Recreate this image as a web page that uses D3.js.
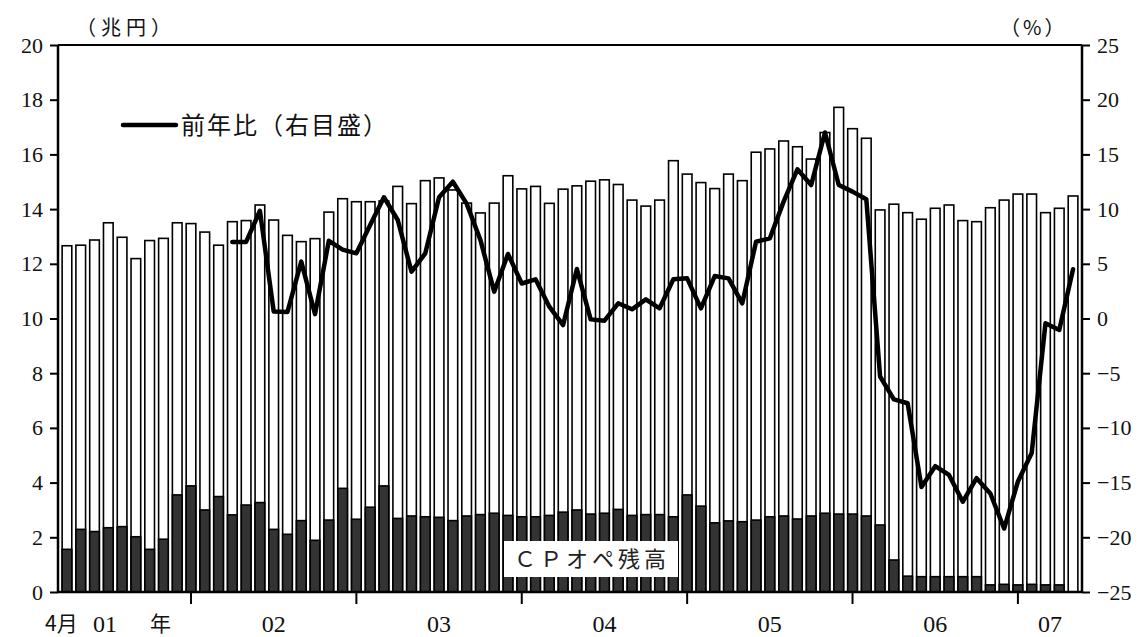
<!DOCTYPE html>
<html>
<head>
<meta charset="utf-8">
<script src="https://cdn.jsdelivr.net/npm/d3@7"></script>
<style>
  html, body { margin: 0; padding: 0; background: #fff; }
  svg { display: block; }
</style>
</head>
<body>
<svg id="chart" width="1143" height="637"></svg>
<script>
// Monthly observations, April 2001 – May 2007 (yy/mm)
const months = [
  "01/04","01/05","01/06","01/07","01/08","01/09","01/10","01/11","01/12",
  "02/01","02/02","02/03","02/04","02/05","02/06","02/07","02/08","02/09","02/10","02/11","02/12",
  "03/01","03/02","03/03","03/04","03/05","03/06","03/07","03/08","03/09","03/10","03/11","03/12",
  "04/01","04/02","04/03","04/04","04/05","04/06","04/07","04/08","04/09","04/10","04/11","04/12",
  "05/01","05/02","05/03","05/04","05/05","05/06","05/07","05/08","05/09","05/10","05/11","05/12",
  "06/01","06/02","06/03","06/04","06/05","06/06","06/07","06/08","06/09","06/10","06/11","06/12",
  "07/01","07/02","07/03","07/04","07/05"
];

// CP outstanding (trillion yen, left scale)
const cpOutstanding = [
  12.66,12.68,12.87,13.50,12.97,12.19,12.85,12.93,13.50,
  13.47,13.16,12.68,13.54,13.58,14.15,13.60,13.04,12.81,12.92,13.89,14.38,
  14.27,14.27,14.30,14.83,14.20,15.04,15.14,14.70,14.22,13.86,14.22,15.22,
  14.74,14.83,14.21,14.73,14.85,15.02,15.07,14.90,14.33,14.11,14.33,15.77,
  15.28,14.97,14.75,15.28,15.04,16.08,16.20,16.49,16.28,15.83,16.80,17.72,
  16.94,16.59,13.97,14.18,13.87,13.63,14.03,14.15,13.58,13.54,14.05,14.33,
  14.55,14.55,13.87,14.03,14.48
];

// CP purchase operations outstanding (trillion yen, left scale)
const cpOperations = [
  1.56,2.29,2.21,2.35,2.39,2.02,1.56,1.93,3.55,
  3.88,3.00,3.49,2.82,3.18,3.27,2.29,2.11,2.61,1.89,2.63,3.79,
  2.66,3.10,3.88,2.69,2.78,2.75,2.73,2.61,2.78,2.83,2.88,2.80,
  2.75,2.75,2.80,2.92,3.00,2.85,2.88,3.02,2.80,2.83,2.83,2.75,
  3.55,3.14,2.53,2.60,2.57,2.63,2.75,2.78,2.67,2.78,2.88,2.85,
  2.85,2.78,2.45,1.17,0.58,0.56,0.56,0.56,0.56,0.56,0.26,0.28,
  0.26,0.28,0.26,0.26,null
];

// Year-on-year change of CP outstanding (%, right scale)
const yoyChange = [
  null,null,null,null,null,null,null,null,null,
  null,null,null,7.0,7.0,9.85,0.65,0.6,5.2,0.4,7.1,6.3,
  5.96,8.55,11.08,9.0,4.28,5.96,11.08,12.5,10.5,7.18,2.45,5.9,
  3.2,3.58,1.08,-0.6,4.52,-0.08,-0.2,1.39,0.84,1.75,0.93,3.58,
  3.67,0.93,3.88,3.67,1.39,7.02,7.33,10.68,13.64,12.2,17.0,12.2,
  11.6,10.9,-5.3,-7.4,-7.75,-15.4,-13.5,-14.3,-16.75,-14.6,-16.0,-19.2,
  -14.9,-12.3,-0.44,-1.05,4.5
];

// Axis ticks and year labels
const leftTicks  = [0, 2, 4, 6, 8, 10, 12, 14, 16, 18, 20];
const rightTicks = [-25, -20, -15, -10, -5, 0, 5, 10, 15, 20, 25];
const yearStarts = ["02/01","03/01","04/01","05/01","06/01","07/01"];
const yearLabels = ["02","03","04","05","06","07"];

const SERIF = "'Liberation Serif', 'Times New Roman', 'DejaVu Serif', serif";
const JP = "'Noto Sans CJK JP', sans-serif";

const svg = d3.select("#chart");
const L = 58, R = 1082, T = 45, B = 592;

const x = d3.scaleBand().domain(months).range([L, R]).padding(0.3);
const yL = d3.scaleLinear().domain([0, 20]).range([B, T]);
const yR = d3.scaleLinear().domain([-25, 25]).range([B, T]);
const cx = m => x(m) + x.bandwidth() / 2;

// Total outstanding bars (white)
svg.append("g").selectAll("rect").data(months).join("rect")
  .attr("x", m => x(m))
  .attr("width", x.bandwidth())
  .attr("y", (m, i) => yL(cpOutstanding[i]))
  .attr("height", (m, i) => yL(0) - yL(cpOutstanding[i]))
  .attr("fill", "#fff").attr("stroke", "#000").attr("stroke-width", 1.6);

// CP operation bars (dark)
const opData = months.map((m, i) => ({ m, v: cpOperations[i] })).filter(d => d.v != null);
svg.append("g").selectAll("rect").data(opData).join("rect")
  .attr("x", d => x(d.m))
  .attr("width", x.bandwidth())
  .attr("y", d => yL(d.v))
  .attr("height", d => yL(0) - yL(d.v))
  .attr("fill", "#333").attr("stroke", "#000").attr("stroke-width", 1.6);

// Label box for the dark bars
const lab = svg.append("g");
lab.append("rect").attr("x", 504).attr("y", 541).attr("width", 174).attr("height", 36).attr("fill", "#fff");
lab.append("text").style("font-family", JP).attr("x", 592).attr("y", 567)
  .attr("text-anchor", "middle").attr("font-size", 22).attr("letter-spacing", 4)
  .attr("fill", "#222").text("ＣＰオペ残高");

// Year-on-year line
const lineData = months.map((m, i) => ({ m, v: yoyChange[i] })).filter(d => d.v != null);
svg.append("path").datum(lineData)
  .attr("d", d3.line().x(d => cx(d.m)).y(d => yR(d.v)))
  .attr("fill", "none").attr("stroke", "#000").attr("stroke-width", 4.5)
  .attr("stroke-linejoin", "round").attr("stroke-linecap", "round");

// Frame
svg.append("line").attr("x1", L).attr("x2", R).attr("y1", T).attr("y2", T).attr("stroke", "#000").attr("stroke-width", 2);
svg.append("line").attr("x1", L).attr("x2", R).attr("y1", B).attr("y2", B).attr("stroke", "#000").attr("stroke-width", 2.5);

// Left and right value axes
const axL = svg.append("g").attr("transform", `translate(${L},0)`)
  .call(d3.axisLeft(yL).tickValues(leftTicks).tickSize(8).tickPadding(7).tickFormat(d3.format("d")));
const axR = svg.append("g").attr("transform", `translate(${R},0)`)
  .call(d3.axisRight(yR).tickValues(rightTicks).tickSize(8).tickPadding(7).tickFormat(d3.format("d")));
[axL, axR].forEach(a => {
  a.attr("font-family", SERIF).attr("font-size", 22);
  a.select(".domain").attr("stroke-width", 2.5).attr("d", `M0,${T}V${B}`);
  a.selectAll(".tick line").attr("stroke-width", 2);
  a.selectAll(".tick text").style("font-family", SERIF).attr("fill", "#111");
});

// Bottom axis: year boundary ticks
svg.append("g").selectAll("line").data(yearStarts).join("line")
  .attr("x1", cx).attr("x2", cx).attr("y1", B).attr("y2", B + 12)
  .attr("stroke", "#000").attr("stroke-width", 2);

// Year labels centred within each year
const yearText = svg.append("g").style("font-family", SERIF).attr("font-size", 24).attr("fill", "#111");
yearStarts.forEach((m, i) => {
  const a = cx(m);
  const b = i + 1 < yearStarts.length ? cx(yearStarts[i + 1]) : R;
  yearText.append("text").attr("x", (a + b) / 2).attr("y", 632).attr("text-anchor", "middle").text(yearLabels[i]);
});
// First (partial) year: "4月 01 年"
yearText.append("text").style("font-family", JP).attr("x", 45).attr("y", 631).attr("font-size", 21).text("4月");
yearText.append("text").attr("x", 93).attr("y", 632).text("01");
yearText.append("text").style("font-family", JP).attr("x", 150).attr("y", 631).attr("font-size", 21).text("年");

// Unit labels
svg.append("text").style("font-family", JP).attr("x", 76).attr("y", 35).attr("font-size", 20)
  .attr("letter-spacing", 5).attr("fill", "#111").text("（兆円）");
svg.append("text").style("font-family", JP).attr("x", 1000).attr("y", 35).attr("font-size", 20)
  .attr("letter-spacing", 3).attr("fill", "#111").text("（%）");

// Legend
svg.append("line").attr("x1", 123).attr("x2", 176).attr("y1", 125).attr("y2", 125)
  .attr("stroke", "#000").attr("stroke-width", 4.5).attr("stroke-linecap", "round");
svg.append("text").style("font-family", JP).attr("x", 181).attr("y", 134).attr("font-size", 24)
  .attr("letter-spacing", 2).attr("fill", "#111")
  .text("前年比（右目盛）");
</script>
</body>
</html>
